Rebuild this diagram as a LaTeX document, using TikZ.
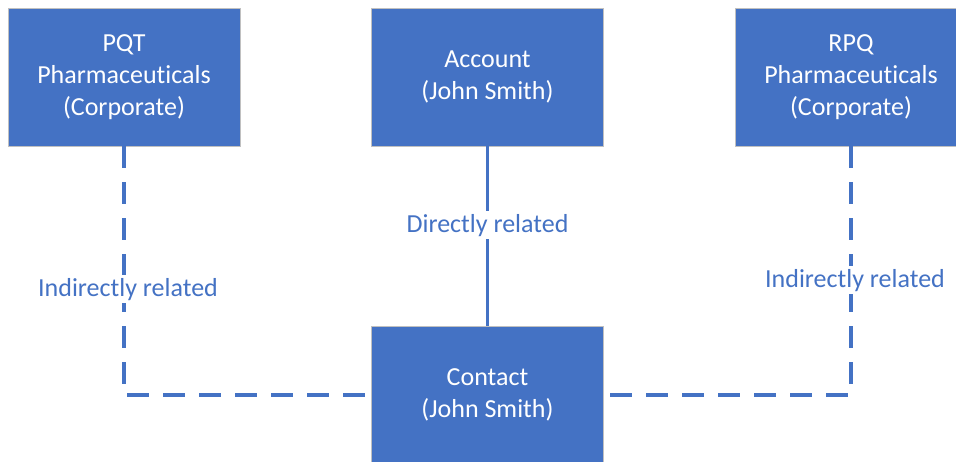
\documentclass[tikz,border=0pt]{standalone}
\usepackage{fontspec}
\setmainfont[Ligatures=NoCommon, RawFeature={-liga;-clig;-calt;-dlig}]{Carlito}
\usepackage{tikz}

\begin{document}
\begin{tikzpicture}[x=1pt, y=-1pt]

	\def\boxw{232}
	\def\boxh{138}
	\def\linew{3.2pt}

	% Colours
	\definecolor{boxcolor}{HTML}{4472C4}
	\definecolor{edgecolor}{HTML}{C0C0C0}
	\colorlet{relcolor}{boxcolor}

	% Styles
	\tikzstyle{entity}=[draw=edgecolor, line width=0.8pt, fill=boxcolor, text=white,
		minimum width=\boxw, minimum height=\boxh, align=center,
		font=\fontsize{26}{32}\selectfont]
	\tikzstyle{link}=[draw=relcolor, line width=\linew]
	\tikzstyle{indirect}=[link, dash pattern=on 22pt off 14pt]
	\tikzstyle{relation}=[fill=white, text=relcolor, inner sep=3pt,
		font=\fontsize{26}{32}\selectfont]

	% Frame
	\useasboundingbox (0,0) rectangle (956,461);
	\clip (0,0) rectangle (956,461);

	% Boxes
	\node[entity] (pqt) at (124, 77) {PQT\\Pharmaceuticals\\(Corporate)};
	\node[entity] (account) at (487.5, 77) {Account\\(John Smith)};
	\node[entity] (rpq) at (851, 77) {RPQ\\Pharmaceuticals\\(Corporate)};
	\node[entity] (contact) at (487.5, 395) {Contact\\(John Smith)};

	% Relations
	\draw[link] (account.south) -- node[relation, pos=0.44]{Directly related} (contact.north);
	\draw[indirect] (pqt.south) |- node[relation, pos=0.287, xshift=4]{Indirectly related} (contact.west);
	\draw[indirect] (rpq.south) |- node[relation, pos=0.269, xshift=4]{Indirectly related} (contact.east);

\end{tikzpicture}
\end{document}
